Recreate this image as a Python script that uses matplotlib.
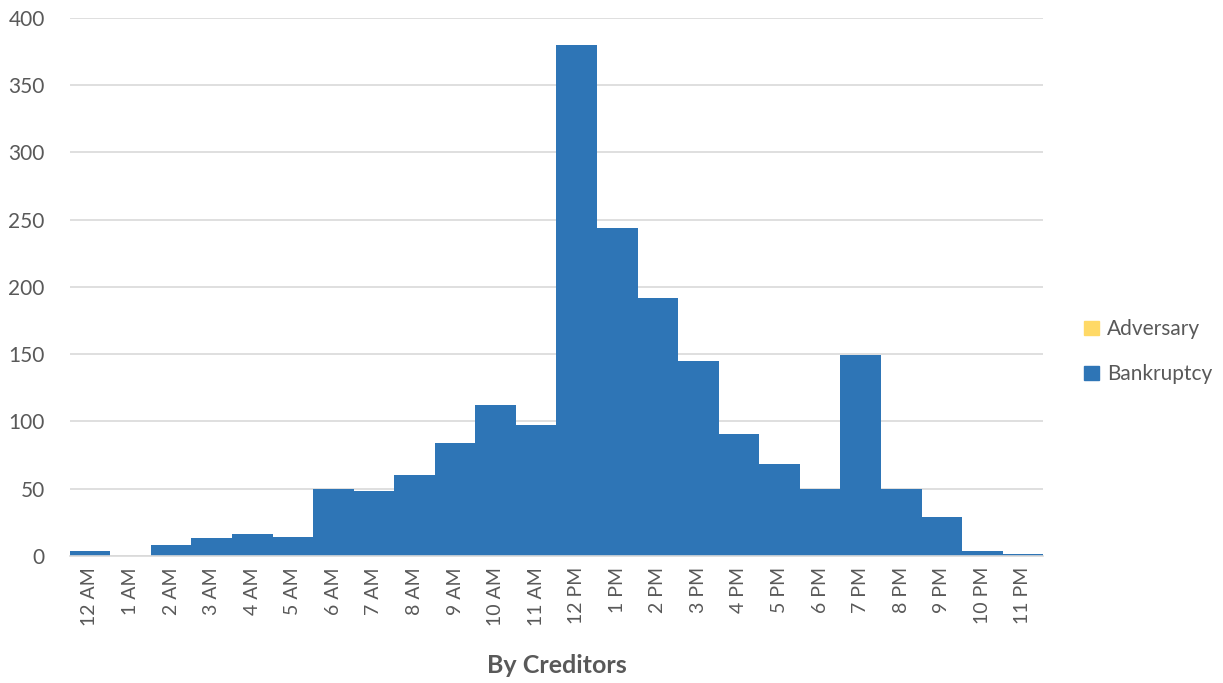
import numpy as np
import matplotlib.pyplot as plt
from matplotlib.patches import Patch

hours = ['12 AM', '1 AM', '2 AM', '3 AM', '4 AM', '5 AM', '6 AM', '7 AM', '8 AM', '9 AM',
         '10 AM', '11 AM', '12 PM', '1 PM', '2 PM', '3 PM', '4 PM', '5 PM', '6 PM', '7 PM',
         '8 PM', '9 PM', '10 PM', '11 PM']
bankruptcy = [4, 0, 8, 13, 16, 14, 50, 48, 60, 84, 112, 97, 380, 244, 192, 145, 91, 68,
              50, 149, 50, 29, 4, 1.5]
adversary = [0] * 24

plt.rcParams['font.family'] = ['Lato', 'DejaVu Sans']
grey = '#595959'

fig = plt.figure(figsize=(12.23, 6.83), dpi=100)
ax = fig.add_axes([0.057, 0.186, 0.796, 0.788])

x = np.arange(len(hours))
ax.bar(x, bankruptcy, width=1.0, color='#2e75b6', zorder=2)
ax.bar(x, adversary, width=1.0, bottom=bankruptcy, color='#ffd966', zorder=2)

ax.set_xlim(-0.5, len(hours) - 0.5)
ax.set_ylim(0, 400)
ax.set_yticks(range(0, 401, 50))
ax.set_xticks(x)
ax.set_xticklabels(hours, rotation=90, fontsize=14, color=grey)
ax.tick_params(axis='y', labelsize=15, labelcolor=grey, length=0, pad=18)
ax.tick_params(axis='x', length=0, pad=8)
ax.grid(axis='y', color='#d9d9d9', linewidth=1.2, zorder=0)
for s in ['top', 'right', 'left']:
    ax.spines[s].set_visible(False)
ax.spines['bottom'].set_color('#d9d9d9')
ax.spines['bottom'].set_linewidth(1.2)

ax.set_xlabel('By Creditors', fontsize=18, fontweight='bold', color=grey, labelpad=20)

handles = [Patch(color='#ffd966', label='Adversary'), Patch(color='#2e75b6', label='Bankruptcy')]
fig.legend(handles=handles, loc='center left', bbox_to_anchor=(0.871, 0.485), frameon=False,
           fontsize=15, labelcolor=grey, handlelength=0.7, handleheight=0.7,
           handletextpad=0.4, labelspacing=1.2)

fig.savefig('out.png', dpi=100)
